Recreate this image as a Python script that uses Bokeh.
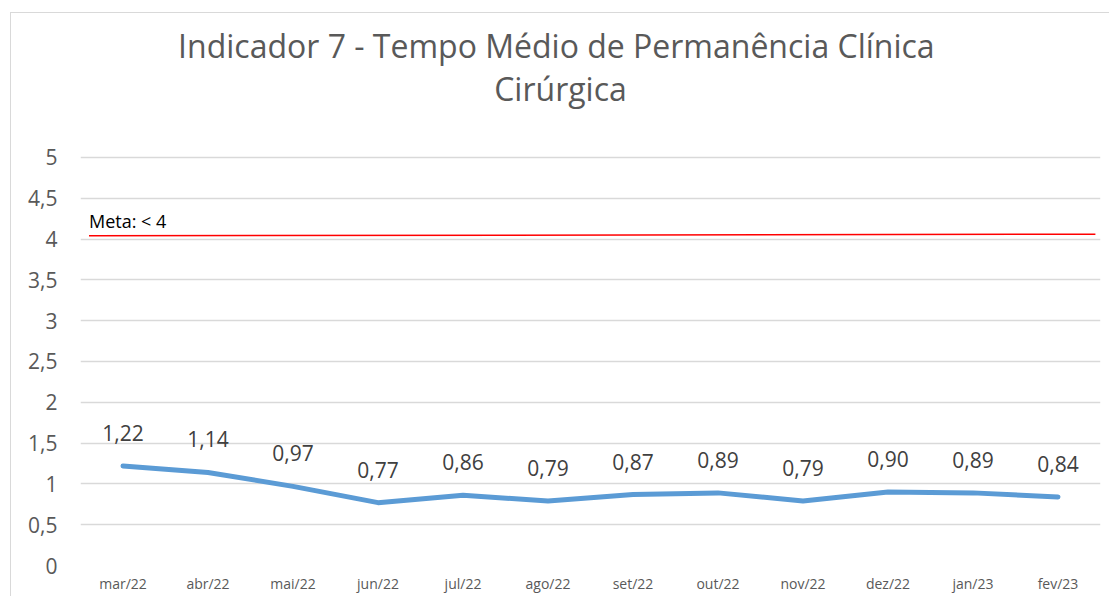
from bokeh.plotting import figure
from bokeh.models import ColumnDataSource, FixedTicker, Label, Range1d
from bokeh.core.properties import value
from bokeh.embed import file_html
from bokeh.resources import INLINE

title_lines = ["Indicador 7 - Tempo Médio de Permanência  Clínica", "Cirúrgica"]
months = ["mar/22", "abr/22", "mai/22", "jun/22", "jul/22", "ago/22",
          "set/22", "out/22", "nov/22", "dez/22", "jan/23", "fev/23"]
tempo = [1.22, 1.14, 0.97, 0.77, 0.86, 0.79, 0.87, 0.89, 0.79, 0.90, 0.89, 0.84]
meta = 4.04
meta_label = "Meta: < 4"
y_ticks = [0, 0.5, 1, 1.5, 2, 2.5, 3, 3.5, 4, 4.5, 5]

FONT = "Open Sans"
GRAY = "#595959"

xs = [i + 0.5 for i in range(len(months))]
labels = [f"{v:.2f}".replace(".", ",") for v in tempo]
src = ColumnDataSource(dict(x=xs, y=tempo, lab=labels))

# the frame extends above the last tick to hold the title
Y_TOP = 6.7647
p = figure(width=1099, height=584, output_backend="svg", toolbar_location=None,
           x_range=Range1d(0, len(months)), y_range=Range1d(0, Y_TOP), title=None,
           min_border_left=69, min_border_right=10, min_border_bottom=32,
           min_border_top=0)
p.outline_line_color = None
p.border_fill_color = "white"
p.background_fill_color = "white"
p.styles = {"margin-left": "10px", "margin-top": "12px",
            "border-left": "1px solid #D9D9D9", "border-top": "1px solid #D9D9D9"}

# title
for txt, yy in zip(title_lines, [6.3725, 5.8456]):
    p.add_layout(Label(x=len(months) / 2, y=yy, x_offset=-30, text=txt,
                       text_font=FONT, text_font_size="32px", text_color=GRAY,
                       text_align="center", text_baseline="middle"))

# axes
p.xaxis.ticker = FixedTicker(ticks=xs)
p.xaxis.major_label_overrides = {x: m for x, m in zip(xs, months)}
p.xaxis.major_label_text_font = FONT
p.xaxis.major_label_text_font_size = "14px"
p.xaxis.major_label_text_color = GRAY
p.xaxis.axis_line_color = None
p.xaxis.major_tick_line_color = None
p.xaxis.minor_tick_line_color = None
p.xaxis.major_tick_out = 0
p.xaxis.major_tick_in = 0
p.xaxis.major_label_standoff = 8

p.yaxis.ticker = FixedTicker(ticks=y_ticks)
p.yaxis.major_label_overrides = {t: (f"{t:g}").replace(".", ",") for t in y_ticks}
p.yaxis.major_label_text_font = FONT
p.yaxis.major_label_text_font_size = "21px"
p.yaxis.major_label_text_color = GRAY
p.yaxis.axis_line_color = None
p.yaxis.major_tick_line_color = None
p.yaxis.minor_tick_line_color = None
p.yaxis.major_tick_out = 0
p.yaxis.major_tick_in = 0
p.yaxis.major_label_standoff = 23

p.xgrid.grid_line_color = None
p.ygrid.grid_line_color = "#D9D9D9"
p.ygrid.grid_line_width = 1.5

# meta line
p.segment(x0=[0.1], x1=[len(months) - 0.06], y0=[meta], y1=[meta + 0.02],
          line_color="#FF0000", line_width=1.5)
p.add_layout(Label(x=0.1, y=meta, text=meta_label, text_font=FONT,
                   text_font_size="18px", text_color="#000000", y_offset=3))

# series
p.line("x", "y", source=src, line_color="#5B9BD5", line_width=5,
       line_cap="round", line_join="round")
p.text("x", "y", text="lab", source=src, text_font=value(FONT),
       text_font_size="21px", text_color="#404040", text_align="center",
       text_baseline="middle", y_offset=-33)

open("out.html", "w").write(file_html(p, INLINE))
